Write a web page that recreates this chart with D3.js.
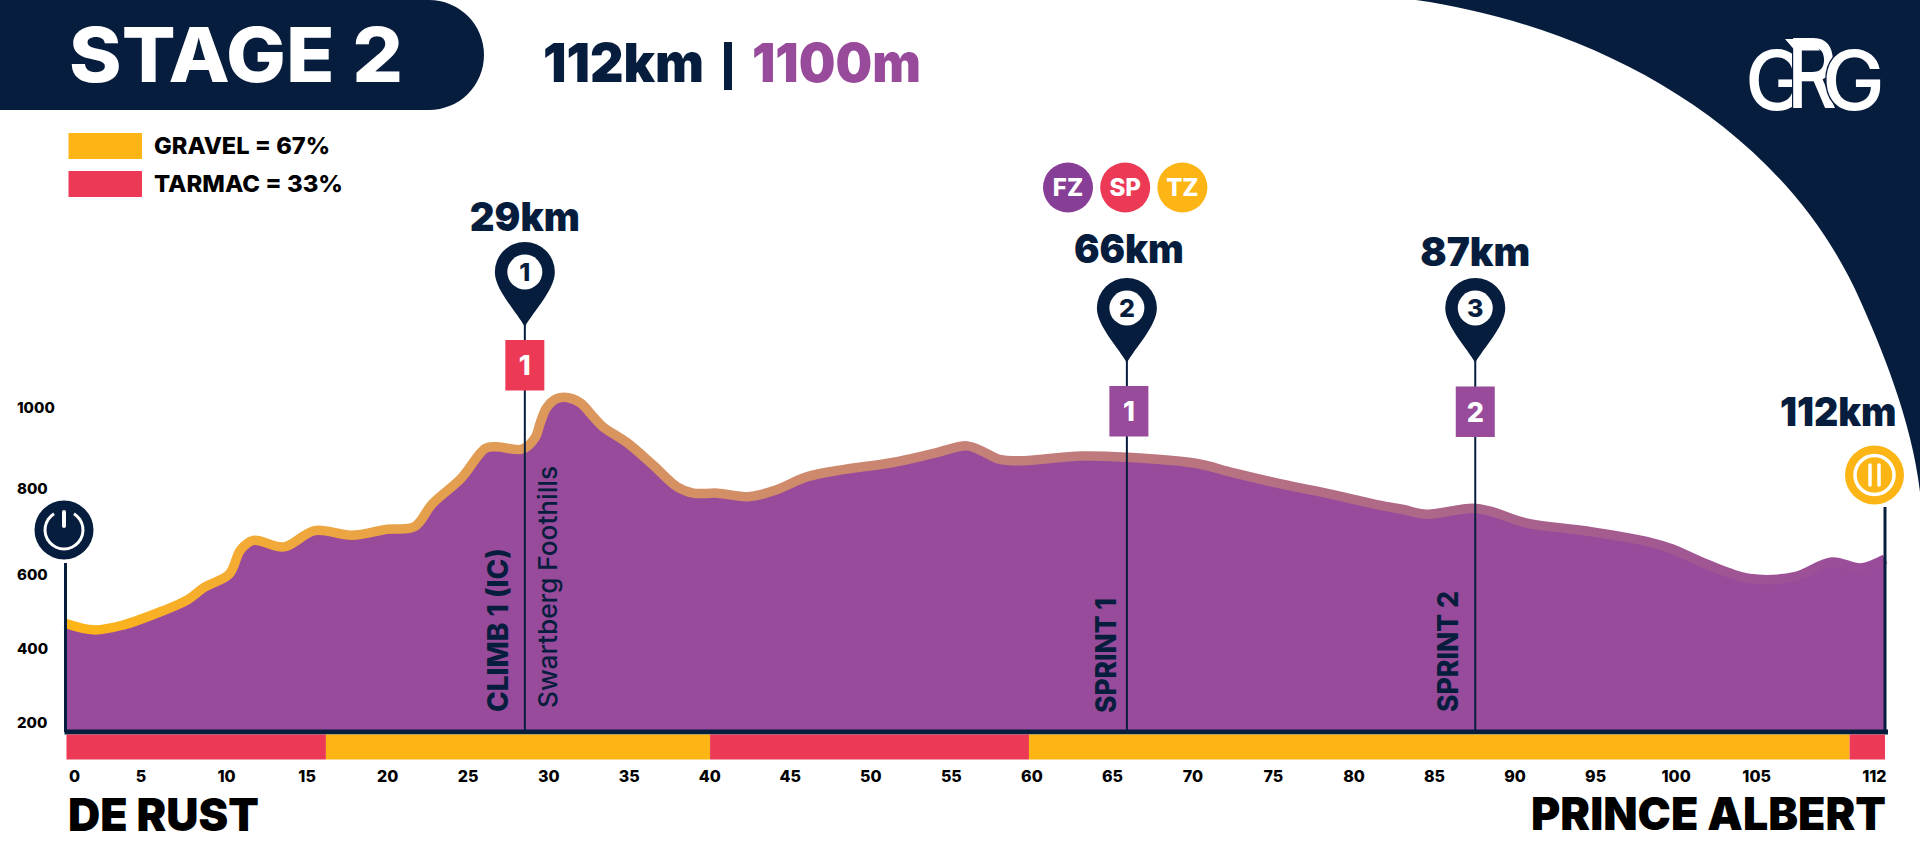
<!DOCTYPE html>
<html>
<head>
<meta charset="utf-8">
<script src="https://cdn.jsdelivr.net/npm/d3@7"></script>
<style>
  html, body { margin: 0; padding: 0; background: #fff; }
  svg { display: block; }
  text { font-family: Inter, "Noto Sans", sans-serif; }
</style>
</head>
<body>
<svg id="chart" width="1920" height="864"></svg>
<script>
// profile, km and metres
var km = [0, 1.8, 3.6, 6.1, 7.6, 8.65, 10.2, 10.9, 11.7, 13.6, 15.5, 17.8, 20, 21.7, 22.8, 24.6, 26.1, 26.8, 28.4, 29.2, 29.5, 29.9, 30.5, 31.24, 32, 32.8, 33.4, 34.9, 36.5, 38, 39, 40.5, 42.5, 44.1, 46.1, 48.4, 51.4, 54, 56, 57, 58, 59.3, 63.1, 65.9, 70.2, 72.5, 75.5, 78.8, 81.6, 83.1, 84.5, 87.4, 88.6, 90.7, 94.5, 98.3, 99.8, 101.8, 104.6, 107.4, 109.7, 111.5, 113];
var elevation = [467, 449, 462, 501, 530, 564, 600, 656, 678, 663, 701, 690, 704, 710, 763, 824, 898, 902, 896, 925, 960, 998, 1020, 1023, 1010, 976, 951, 912, 857, 803, 788, 788, 780, 795, 828, 846, 863, 886, 904, 890, 871, 867, 879, 876, 861, 838, 810, 784, 760, 750, 739, 753, 745, 719, 700, 675, 658, 625, 588, 593, 628, 614, 635];

var yTicks = [200, 400, 600, 800, 1000];
var xTicks = [0, 5, 10, 15, 20, 25, 30, 35, 40, 45, 50, 55, 60, 65, 70, 75, 80, 85, 90, 95, 100, 105, 112];

// surface strip
var surfaceStart = [0, 16.2, 40.05, 59.85, 110.8];
var surfaceEnd = [16.2, 40.05, 59.85, 110.8, 113];
var surfaceType = ['tarmac', 'gravel', 'tarmac', 'gravel', 'tarmac'];

// waypoints
var pinKm = [28.55, 65.93, 87.56];
var pinDistance = ['29km', '66km', '87km'];
var pinNumber = ['1', '2', '3'];
var boxNumber = ['1', '1', '2'];
var boxType = ['tarmac', 'sprint', 'sprint'];
var pinNames = ['CLIMB 1 (IC)', 'SPRINT 1', 'SPRINT 2'];

var zoneLabels = ['FZ', 'SP', 'TZ'];
var legendLabels = ['GRAVEL = 67%', 'TARMAC = 33%'];

var navy = '#061d3d', purple = '#984b9a', gold = '#fdb515', red = '#ec3a56';
var surfaceColor = { gravel: gold, tarmac: red, sprint: purple };

var svg = d3.select('#chart');
var baseY = 732;

var x = d3.scaleLinear().domain([0, 113]).range([65, 1885]);
// the printed elevation ticks are not evenly spaced, so the scale has one segment per tick
var y = d3.scaleLinear().domain(yTicks).range([722, 648, 574, 488, 407]);

function label(g, px, py, str, size, weight, color, width, anchor) {
  var t = g.append('text')
    .attr('x', px).attr('y', py)
    .attr('font-size', size).attr('font-weight', weight)
    .attr('fill', color)
    .attr('text-anchor', anchor || 'start')
    .text(str);
  if (width) t.attr('textLength', width).attr('lengthAdjust', 'spacingAndGlyphs');
  return t;
}

var profile = km.map(function(k, i) { return { km: k, ele: elevation[i] }; });

// top right corner
svg.append('path')
  .attr('d', 'M1416,0C1590,25 1780,120 1860,300C1880,345 1912,420 1920,492L1920,0Z')
  .attr('fill', navy);

// logo
var logo = svg.append('g');
label(logo, 1745, 110, 'G', 82, 500, '#fff', 62);
label(logo, 1787, 108, 'R', 96, 500, '#fff', 50)
  .attr('stroke', navy).attr('stroke-width', 3).attr('paint-order', 'stroke');
logo.append('path').attr('d', 'M1785,39H1812L1820,50.5H1795Z').attr('fill', '#fff');
label(logo, 1822, 110, 'G', 82, 500, '#fff', 63)
  .attr('stroke', navy).attr('stroke-width', 3).attr('paint-order', 'stroke');

// header
svg.append('path')
  .attr('d', 'M0,0H429A55,55 0 0 1 429,110H0Z')
  .attr('fill', navy);
label(svg, 69, 82, 'STAGE 2', 76, 800, '#fff', 334);
label(svg, 543, 82, '112km', 54, 900, navy, 161);
svg.append('rect').attr('x', 724).attr('y', 42).attr('width', 8).attr('height', 48).attr('fill', navy);
label(svg, 752, 82, '1100m', 54, 900, purple, 169);

// legend
legendLabels.forEach(function(d, i) {
  svg.append('rect')
    .attr('x', 68.5).attr('y', 133 + i * 38)
    .attr('width', 73.5).attr('height', 26)
    .attr('fill', i == 0 ? gold : red);
  label(svg, 154, 153.5 + i * 38.5, d, 23, 800, '#000', i == 0 ? 176 : 189);
});

// gradient along the ridge line
var grad = svg.append('defs').append('linearGradient')
  .attr('id', 'ridge')
  .attr('gradientUnits', 'userSpaceOnUse')
  .attr('x1', x(0)).attr('x2', x(113)).attr('y1', 0).attr('y2', 0);
[[0, '#fdb515'], [0.1, '#f3ab36'], [0.25, '#de9a58'], [0.5, '#c58078'], [0.75, '#ad6788'], [1, '#984b9a']].forEach(function(s) {
  grad.append('stop').attr('offset', s[0]).attr('stop-color', s[1]);
});

var curve = d3.curveCatmullRom.alpha(0.5);

svg.append('path')
  .datum(profile)
  .attr('d', d3.area().curve(curve)
    .x(function(d) { return x(d.km); })
    .y0(baseY)
    .y1(function(d) { return y(d.ele); }))
  .attr('fill', purple);

svg.append('path')
  .datum(profile)
  .attr('d', d3.line().curve(curve).x(function(d) { return x(d.km); }).y(function(d) { return y(d.ele); }))
  .attr('fill', 'none')
  .attr('stroke', 'url(#ridge)')
  .attr('stroke-width', 9.5);

// start and finish uprights, base line
svg.append('line').attr('x1', x(0) + 0.5).attr('x2', x(0) + 0.5).attr('y1', 563).attr('y2', baseY).attr('stroke', navy).attr('stroke-width', 3);
svg.append('line').attr('x1', x(113)).attr('x2', x(113)).attr('y1', 507).attr('y2', baseY).attr('stroke', navy).attr('stroke-width', 3);
svg.append('line').attr('x1', 64.5).attr('x2', 1888).attr('y1', baseY).attr('y2', baseY).attr('stroke', navy).attr('stroke-width', 5);

// surface strip
svg.selectAll('.surface')
  .data(surfaceStart)
  .enter().append('rect')
    .attr('class', 'surface')
    .attr('x', function(d) { return Math.max(x(d), 66.5); })
    .attr('y', 734.5)
    .attr('width', function(d, i) { return x(surfaceEnd[i]) - Math.max(x(d), 66.5); })
    .attr('height', 25)
    .attr('fill', function(d, i) { return surfaceColor[surfaceType[i]]; });

// axes
var xAxis = svg.append('g')
  .attr('transform', 'translate(0,775)')
  .call(d3.axisBottom(x).tickValues(xTicks).tickSize(0).tickFormat(d3.format('d')));
xAxis.select('.domain').remove();
xAxis.selectAll('text')
  .attr('y', 0).attr('dy', '0.42em')
  .attr('font-size', 16).attr('font-weight', 800).attr('fill', '#000')
  .style('font-family', 'Inter')
  .attr('dx', function(d) { return d == 0 ? 9 : d == 5 ? -5 : d == 112 ? 5 : 0; });

var yAxis = svg.append('g')
  .attr('transform', 'translate(17,0)')
  .call(d3.axisLeft(y).tickValues(yTicks).tickSize(0).tickFormat(d3.format('d')));
yAxis.select('.domain').remove();
yAxis.selectAll('text')
  .attr('x', 0).attr('dy', '0.36em')
  .attr('text-anchor', 'start')
  .attr('font-size', 15).attr('font-weight', 800).attr('fill', '#000')
  .style('font-family', 'Inter');

// place names
label(svg, 68, 831, 'DE RUST', 45, 900, '#000', 191);
label(svg, 1531, 830, 'PRINCE ALBERT', 45, 900, '#000', 355);

// waypoints: stem, pin, distance, box
var tipY = [327, 363, 363];
var boxY = [340, 386, 386.5];
var distY = [231, 263, 265.5];
pinKm.forEach(function(k, i) {
  var px = x(k), g = svg.append('g');
  g.append('line').attr('x1', px).attr('x2', px).attr('y1', tipY[i] - 2).attr('y2', baseY - 2).attr('stroke', navy).attr('stroke-width', 2);
  g.append('path')
    .attr('transform', 'translate(' + px + ',' + (tipY[i] - 55) + ')')
    .attr('d', 'M0,55C-8,40 -30,18 -30,0A30,30 0 1 1 30,0C30,18 8,40 0,55Z')
    .attr('fill', navy);
  g.append('circle').attr('cx', px).attr('cy', tipY[i] - 55).attr('r', 17.5).attr('fill', '#fff');
  label(g, px, tipY[i] - 46, pinNumber[i], 25, 800, navy, null, 'middle');
  label(g, px + (i == 1 ? 2 : 0), distY[i], pinDistance[i], 40, 900, navy, 110, 'middle');
  var bx = px + (i == 1 ? 2 : 0);
  g.append('rect').attr('x', bx - 19.5).attr('y', boxY[i]).attr('width', 39).attr('height', 50.5)
    .attr('fill', surfaceColor[boxType[i]]);
  label(g, bx, boxY[i] + 35, boxNumber[i], 27, 800, '#fff', null, 'middle');
});

// rotated names beside the stems
function vertical(px, py, str, size, weight, width) {
  label(svg, 0, 0, str, size, weight, navy, width)
    .attr('transform', 'translate(' + px + ',' + py + ') rotate(-90)');
}
vertical(508, 712, pinNames[0], 28, 800, 164);
vertical(557, 708, 'Swartberg Foothills', 26, 500, 242);
vertical(1115.5, 713, pinNames[1], 28, 800, 115);
vertical(1458, 712, pinNames[2], 28, 800, 121);

// zone badges
zoneLabels.forEach(function(d, i) {
  var cx = 1068 + i * 57.2;
  svg.append('circle').attr('cx', cx).attr('cy', 187.5).attr('r', 25)
    .attr('fill', [ '#873e96', red, gold ][i]);
  label(svg, cx, 196, d, 24, 800, '#fff', null, 'middle');
});

// start icon
var start = svg.append('g').attr('transform', 'translate(64,530)');
start.append('circle').attr('r', 29.5).attr('fill', navy);
start.append('path')
  .attr('d', d3.arc().innerRadius(17.5).outerRadius(20.5).startAngle(0.55).endAngle(2 * Math.PI - 0.55))
  .attr('fill', '#fff');
start.append('line').attr('x1', 0).attr('x2', 0).attr('y1', -18).attr('y2', -4).attr('stroke', '#fff').attr('stroke-width', 4).attr('stroke-linecap', 'round');

// finish icon
label(svg, 1780, 426, '112km', 40, 900, navy, 116.5);
var finish = svg.append('g').attr('transform', 'translate(1874.5,475)');
finish.append('circle').attr('r', 29.5).attr('fill', gold);
finish.append('circle').attr('r', 19.5).attr('fill', 'none').attr('stroke', '#fff').attr('stroke-width', 3.5);
[-4.5, 4.5].forEach(function(dx) {
  finish.append('line').attr('x1', dx).attr('x2', dx).attr('y1', -10).attr('y2', 10).attr('stroke', '#fff').attr('stroke-width', 3.5).attr('stroke-linecap', 'round');
});
</script>
</body>
</html>
